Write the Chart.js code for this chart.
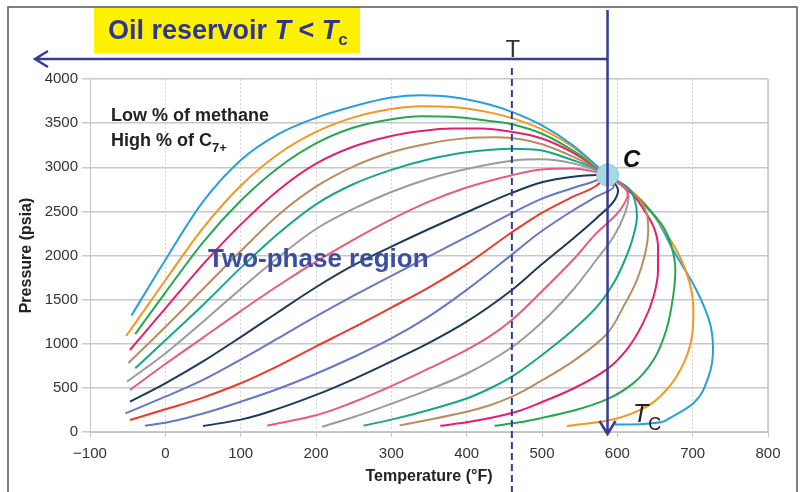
<!DOCTYPE html>
<html>
<head>
<meta charset="utf-8">
<title>Oil reservoir phase diagram</title>
<script src="https://cdn.jsdelivr.net/npm/chart.js@4.4.1/dist/chart.umd.min.js"></script>
<style>
  html, body { margin: 0; padding: 0; background: #fff; }
  canvas { display: block; }
</style>
</head>
<body>
<canvas id="phase-chart" width="804" height="492"></canvas>
<script>
// Axis ticks
const tempTicks = [-100, 0, 100, 200, 300, 400, 500, 600, 700, 800];
const pressureTicks = [0, 500, 1000, 1500, 2000, 2500, 3000, 3500, 4000];

// Critical point C and the reservoir temperature T
const critPoint = [587, 2912];
const reservoirTemp = 460;

// Lines of the envelope, [temperature °F, pressure psia], each one runs into C.
// Upper lines rise from the left and fall into C.
const upperBlue = [[-45, 1320], [0, 1950], [50, 2610], [100, 3080], [150, 3375], [200, 3560], [250, 3692], [300, 3790], [340, 3815], [380, 3797], [430, 3712], [460, 3628], [500, 3475], [541, 3250], [572, 3020]];
const upperOrange = [[-52, 1088], [0, 1720], [50, 2310], [100, 2790], [150, 3150], [200, 3400], [250, 3565], [300, 3660], [340, 3692], [380, 3683], [430, 3622], [460, 3557], [500, 3430], [541, 3230], [572, 3012]];
const upperGreen = [[-40, 1110], [0, 1580], [50, 2150], [100, 2620], [150, 2995], [200, 3270], [250, 3450], [300, 3545], [340, 3578], [380, 3572], [430, 3525], [460, 3488], [500, 3380], [541, 3190], [572, 3005]];
const upperMagenta = [[-47, 929], [0, 1400], [50, 1900], [100, 2350], [150, 2740], [200, 3040], [250, 3235], [300, 3355], [340, 3412], [380, 3440], [420, 3440], [460, 3400], [500, 3325], [541, 3165], [572, 2998]];
const upperTan = [[-49, 782], [0, 1190], [50, 1620], [100, 2050], [150, 2460], [200, 2780], [250, 3010], [300, 3170], [350, 3270], [400, 3330], [440, 3340], [470, 3320], [500, 3260], [541, 3120], [572, 2990]];
const upperTeal = [[-40, 722], [0, 1040], [50, 1440], [100, 1860], [150, 2250], [200, 2580], [250, 2810], [300, 2970], [350, 3090], [400, 3170], [460, 3210], [500, 3190], [541, 3080], [572, 2982]];
const upperGrey = [[-51, 570], [0, 890], [50, 1250], [100, 1620], [150, 1980], [200, 2300], [250, 2530], [300, 2720], [350, 2870], [400, 2980], [460, 3074], [500, 3090], [541, 3044], [572, 2965]];
const upperPink = [[-47, 476], [0, 770], [50, 1070], [100, 1370], [150, 1660], [200, 1930], [250, 2180], [300, 2410], [350, 2610], [400, 2770], [460, 2910], [500, 2975], [541, 2985], [572, 2945]];
const upperNavy = [[-47, 343], [0, 552], [50, 800], [100, 1076], [150, 1360], [200, 1640], [250, 1890], [300, 2100], [350, 2300], [400, 2490], [460, 2710], [500, 2830], [541, 2893], [572, 2912]];
const upperSlate = [[-53, 212], [0, 400], [50, 590], [100, 820], [150, 1065], [200, 1310], [250, 1545], [300, 1770], [350, 1990], [400, 2210], [460, 2480], [500, 2645], [541, 2765], [572, 2850]];
const midRed = [[-47, 136], [0, 257], [50, 390], [100, 552], [150, 750], [200, 970], [250, 1185], [300, 1410], [350, 1640], [400, 1900], [460, 2263], [497, 2470], [541, 2666], [572, 2790]];
// Lower lines climb from the bottom and bend round into C
const lowerSlate = [[-27, 72], [0, 105], [50, 210], [100, 343], [150, 490], [200, 660], [250, 850], [300, 1060], [350, 1310], [400, 1610], [460, 2010], [497, 2260], [541, 2510], [572, 2666], [595, 2780]];
const lowerNavy = [[50, 68], [100, 140], [150, 265], [200, 420], [250, 600], [300, 800], [350, 1010], [400, 1250], [460, 1609], [497, 1880], [541, 2190], [572, 2420], [595, 2610], [601, 2740]];
const lowerPink = [[135, 72], [200, 190], [250, 340], [300, 520], [350, 720], [400, 930], [430, 1080], [460, 1270], [497, 1570], [541, 1949], [572, 2251], [602, 2496], [614, 2704]];
const lowerGrey = [[208, 60], [250, 170], [300, 320], [350, 480], [400, 660], [460, 960], [497, 1220], [541, 1609], [572, 1949], [595, 2213], [610, 2478], [615, 2666], [608, 2780]];
const lowerTeal = [[263, 72], [300, 140], [350, 250], [400, 380], [430, 490], [460, 627], [497, 853], [541, 1156], [573, 1420], [595, 1685], [610, 1949], [621, 2213], [626, 2439], [623, 2629], [615, 2761]];
const lowerTan = [[311, 75], [350, 140], [400, 230], [430, 300], [460, 400], [497, 570], [541, 800], [586, 1110], [608, 1420], [626, 1722], [637, 2025], [641, 2289], [639, 2478], [630, 2629], [617, 2742]];
const lowerMagenta = [[365, 70], [400, 110], [460, 215], [500, 340], [541, 490], [586, 710], [612, 929], [634, 1231], [648, 1533], [654, 1835], [654, 2100], [648, 2326], [634, 2534], [619, 2704]];
const lowerGreen = [[437, 70], [470, 110], [500, 160], [541, 240], [586, 370], [621, 551], [648, 816], [665, 1156], [674, 1533], [677, 1835], [672, 2100], [661, 2326], [643, 2515], [626, 2666]];
const lowerOrange = [[533, 68], [586, 128], [630, 249], [665, 476], [688, 778], [699, 1080], [701, 1382], [696, 1685], [683, 1986], [665, 2251], [645, 2500], [622, 2704]];
const lowerBlue = [[597, 84], [630, 88], [666, 140], [701, 325], [721, 627], [727, 929], [723, 1231], [705, 1609], [674, 2062], [647, 2470], [606, 2799]];

// Line colours
const blue = '#27a0d9', orange = '#f5961f', green = '#25a74f', magenta = '#e51f6b',
      tan = '#b98c62', teal = '#17a68a', grey = '#9b9b9b', pink = '#ea5a7e',
      navy = '#1c3a5c', slate = '#6678c2', red = '#ec3a2b';

// [points, colour, axis the line is smoothed along]
const curves = [
  [upperBlue, blue, 'x'], [upperOrange, orange, 'x'], [upperGreen, green, 'x'], [upperMagenta, magenta, 'x'],
  [upperTan, tan, 'x'], [upperTeal, teal, 'x'], [upperGrey, grey, 'x'], [upperPink, pink, 'x'],
  [upperNavy, navy, 'x'], [upperSlate, slate, 'x'], [midRed, red, 'x'],
  [lowerSlate, slate, 'y'], [lowerNavy, navy, 'y'], [lowerPink, pink, 'y'], [lowerGrey, grey, 'y'],
  [lowerTeal, teal, 'y'], [lowerTan, tan, 'y'], [lowerMagenta, magenta, 'y'], [lowerGreen, green, 'y'],
  [lowerOrange, orange, 'y'], [lowerBlue, blue, 'y']
];

const sans = '"Liberation Sans", Arial, Helvetica, sans-serif';
const inkBlue = '#363b93';

// Critical point goes first so it is painted over the lines
const datasets = [{
  data: [{ x: critPoint[0], y: critPoint[1] }],
  showLine: false,
  pointRadius: 11,
  pointBackgroundColor: '#a7d9e3',
  pointBorderColor: '#8cc9d5',
  pointBorderWidth: 1
}];

curves.forEach(([points, color, axis]) => {
  datasets.push({
    data: points.concat([critPoint]).map(([t, p]) => ({ x: t, y: p })),
    indexAxis: axis,
    showLine: true,
    borderColor: color,
    borderWidth: 2,
    pointRadius: 0,
    tension: 0.4,
    cubicInterpolationMode: 'monotone',
    fill: false
  });
});

// Write a line of text made of runs with their own font and baseline shift
function drawRuns(ctx, x, y, runs) {
  runs.forEach(([text, font, dy]) => {
    ctx.font = font;
    ctx.fillText(text, x, y + (dy || 0));
    x += ctx.measureText(text).width;
  });
}

const annotations = {
  id: 'annotations',
  beforeDatasetsDraw(chart) {
    const { ctx, chartArea: a } = chart;
    // solid edge on the right of the plot
    ctx.save();
    ctx.strokeStyle = '#c4c4c4';
    ctx.lineWidth = 1.5;
    ctx.beginPath();
    ctx.moveTo(a.right, a.top);
    ctx.lineTo(a.right, a.bottom);
    ctx.stroke();
    ctx.restore();
  },
  afterDatasetsDraw(chart) {
    const { ctx, scales: { x } } = chart;
    const tcX = x.getPixelForValue(critPoint[0]);
    const tX = x.getPixelForValue(reservoirTemp);
    ctx.save();

    // yellow title box
    ctx.fillStyle = '#fff200';
    ctx.fillRect(94, 7, 266, 46);
    ctx.fillStyle = '#2f3590';
    ctx.textAlign = 'left';
    ctx.textBaseline = 'alphabetic';
    drawRuns(ctx, 108, 39, [
      ['Oil reservoir ', `bold 27px ${sans}`],
      ['T', `italic bold 27px ${sans}`],
      [' < ', `bold 27px ${sans}`],
      ['T', `italic bold 27px ${sans}`],
      ['c', `bold 17px ${sans}`, 6]
    ]);

    // arrow pointing to lower temperatures
    ctx.strokeStyle = inkBlue;
    ctx.lineWidth = 2.5;
    ctx.lineJoin = 'miter';
    ctx.beginPath();
    ctx.moveTo(tcX, 59);
    ctx.lineTo(36, 59);
    ctx.moveTo(48, 51);
    ctx.lineTo(35, 59);
    ctx.lineTo(48, 67);
    ctx.stroke();

    // critical temperature line with arrow head
    ctx.beginPath();
    ctx.moveTo(tcX, 10);
    ctx.lineTo(tcX, 434);
    ctx.moveTo(tcX - 8, 421);
    ctx.lineTo(tcX, 434);
    ctx.lineTo(tcX + 8, 421);
    ctx.stroke();

    // reservoir temperature, dashed
    ctx.lineWidth = 2;
    ctx.setLineDash([7, 4]);
    ctx.beginPath();
    ctx.moveTo(tX, 68);
    ctx.lineTo(tX, 492);
    ctx.stroke();
    ctx.setLineDash([]);

    ctx.fillStyle = '#333';
    ctx.textAlign = 'center';
    ctx.font = `24px ${sans}`;
    ctx.fillText('T', tX + 1, 57);

    ctx.textAlign = 'left';
    ctx.fillStyle = '#111';
    ctx.font = `italic bold 24px ${sans}`;
    ctx.fillText('C', 623, 167);

    ctx.fillStyle = '#222';
    ctx.font = `bold 18px ${sans}`;
    ctx.fillText('Low % of methane', 111, 121);
    drawRuns(ctx, 111, 146, [
      ['High % of C', `bold 18px ${sans}`],
      ['7+', `bold 13px ${sans}`, 6]
    ]);

    ctx.fillStyle = '#3b4e9f';
    ctx.font = `bold 26px ${sans}`;
    ctx.fillText('Two-phase region', 208, 267);

    ctx.fillStyle = '#222';
    drawRuns(ctx, 633, 422, [
      ['T', `italic 25px ${sans}`],
      ['C', `18px ${sans}`, 8]
    ]);

    ctx.restore();
  },
  afterDraw(chart) {
    // thin frame round the figure
    const { ctx } = chart;
    ctx.save();
    ctx.strokeStyle = '#555';
    ctx.lineWidth = 1.5;
    ctx.strokeRect(8, 7, 789, 495);
    ctx.restore();
  }
};

const ctx = document.getElementById('phase-chart').getContext('2d');
const phaseChart = new Chart(ctx, {
  type: 'scatter',
  data: { datasets: datasets },
  plugins: [annotations],
  options: {
    responsive: false,
    animation: false,
    events: [],
    layout: { padding: { left: 10, right: 36, top: 79, bottom: 0 } },
    plugins: {
      legend: { display: false },
      tooltip: { enabled: false }
    },
    scales: {
      x: {
        type: 'linear',
        min: -100,
        max: 800,
        afterBuildTicks: scale => { scale.ticks = tempTicks.map(v => ({ value: v })); },
        afterFit: scale => { scale.height = 60; },
        ticks: {
          color: '#333',
          font: { family: sans, size: 15 },
          padding: 8,
          maxRotation: 0,
          autoSkip: false,
          callback: v => (v < 0 ? '\u2212' + Math.abs(v) : String(v))
        },
        grid: { color: '#d2d2d2', lineWidth: 1, tickLength: 5, tickColor: '#c4c4c4' },
        border: { display: true, color: '#c4c4c4', dash: [2, 2] },
        title: {
          display: true,
          text: 'Temperature (°F)',
          color: '#222',
          font: { family: sans, size: 16, weight: 'bold' },
          padding: { top: 0, bottom: 6 }
        }
      },
      y: {
        type: 'linear',
        min: 0,
        max: 4000,
        afterBuildTicks: scale => { scale.ticks = pressureTicks.map(v => ({ value: v })); },
        afterFit: scale => { scale.width = 80; },
        ticks: {
          color: '#333',
          font: { family: sans, size: 15 },
          padding: 4,
          callback: v => String(v)
        },
        grid: { color: '#c8c8c8', lineWidth: 1.5, tickLength: 8 },
        border: { display: true, color: '#c4c4c4' },
        title: {
          display: true,
          text: 'Pressure (psia)',
          color: '#222',
          font: { family: sans, size: 16, weight: 'bold' },
          padding: { top: 7, bottom: 0 }
        }
      }
    }
  }
});
</script>
</body>
</html>
